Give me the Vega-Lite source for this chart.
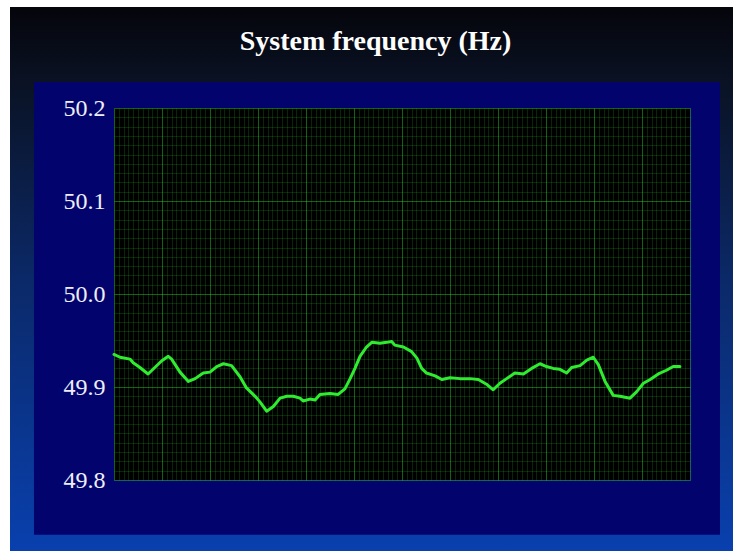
{
  "$schema": "https://vega.github.io/schema/vega-lite/v6.json",
  "width": 723,
  "height": 544,
  "autosize": {"type": "none"},
  "padding": {"left": 10, "top": 7, "right": 4, "bottom": 0},
  "background": "#ffffff",
  "title": {
    "text": "System frequency (Hz)",
    "font": "Liberation Serif",
    "fontSize": 28,
    "fontWeight": "bold",
    "color": "#ffffff",
    "anchor": "middle",
    "baseline": "alphabetic",
    "offset": -71,
    "dx": 4
  },
  "config": {"view": {"stroke": null}},
  "data": {"values": [
    {"t": 0, "f": 49.935}, {"t": 1.25, "f": 49.932}, {"t": 3.33, "f": 49.930}, {"t": 4.0, "f": 49.926},
    {"t": 5.4, "f": 49.921}, {"t": 7.1, "f": 49.914}, {"t": 8.5, "f": 49.921}, {"t": 9.9, "f": 49.928},
    {"t": 11.3, "f": 49.933}, {"t": 12.0, "f": 49.930}, {"t": 13.75, "f": 49.916}, {"t": 15.5, "f": 49.906},
    {"t": 16.9, "f": 49.909}, {"t": 18.6, "f": 49.915}, {"t": 20.0, "f": 49.916}, {"t": 21.4, "f": 49.922},
    {"t": 22.8, "f": 49.925}, {"t": 24.5, "f": 49.923}, {"t": 26.25, "f": 49.911}, {"t": 27.6, "f": 49.899},
    {"t": 29.4, "f": 49.890}, {"t": 30.4, "f": 49.884}, {"t": 31.8, "f": 49.874}, {"t": 33.2, "f": 49.879},
    {"t": 34.6, "f": 49.888}, {"t": 36.0, "f": 49.890}, {"t": 37.35, "f": 49.890}, {"t": 38.75, "f": 49.888},
    {"t": 39.4, "f": 49.885}, {"t": 40.8, "f": 49.887}, {"t": 41.9, "f": 49.886}, {"t": 42.9, "f": 49.892},
    {"t": 45.0, "f": 49.893}, {"t": 46.7, "f": 49.892}, {"t": 48.1, "f": 49.898}, {"t": 49.2, "f": 49.909},
    {"t": 50.2, "f": 49.920}, {"t": 51.25, "f": 49.933}, {"t": 52.6, "f": 49.943}, {"t": 53.7, "f": 49.948},
    {"t": 55.4, "f": 49.947}, {"t": 56.8, "f": 49.948}, {"t": 57.85, "f": 49.949}, {"t": 58.5, "f": 49.945},
    {"t": 60.3, "f": 49.943}, {"t": 62.0, "f": 49.938}, {"t": 63.1, "f": 49.931}, {"t": 64.1, "f": 49.920},
    {"t": 65.1, "f": 49.915}, {"t": 66.9, "f": 49.912}, {"t": 68.3, "f": 49.908}, {"t": 70.0, "f": 49.910},
    {"t": 72.1, "f": 49.909}, {"t": 74.2, "f": 49.909}, {"t": 75.9, "f": 49.908}, {"t": 77.6, "f": 49.903},
    {"t": 79.0, "f": 49.897}, {"t": 80.4, "f": 49.904}, {"t": 81.8, "f": 49.909}, {"t": 83.5, "f": 49.915},
    {"t": 85.3, "f": 49.914}, {"t": 87.0, "f": 49.920}, {"t": 88.75, "f": 49.925}, {"t": 90.1, "f": 49.922},
    {"t": 91.5, "f": 49.920}, {"t": 92.9, "f": 49.919}, {"t": 94.3, "f": 49.915}, {"t": 95.35, "f": 49.921},
    {"t": 97.1, "f": 49.923}, {"t": 98.5, "f": 49.929}, {"t": 99.85, "f": 49.932}, {"t": 100.9, "f": 49.924},
    {"t": 102.3, "f": 49.906}, {"t": 104.0, "f": 49.891}, {"t": 105.4, "f": 49.890}, {"t": 107.5, "f": 49.888},
    {"t": 108.9, "f": 49.895}, {"t": 110.3, "f": 49.904}, {"t": 111.7, "f": 49.908}, {"t": 113.4, "f": 49.914},
    {"t": 115.1, "f": 49.918}, {"t": 116.5, "f": 49.922}, {"t": 117.9, "f": 49.922}
  ]},
  "resolve": {"axis": {"x": "independent", "y": "independent"}},
  "layer": [
    {
      "data": {"values": [{}]},
      "mark": {
        "type": "rect",
        "fill": {
          "gradient": "linear", "x1": 0, "y1": 0, "x2": 0, "y2": 1,
          "stops": [
            {"offset": 0, "color": "#05050b"},
            {"offset": 0.15, "color": "#0a1326"},
            {"offset": 0.5, "color": "#0b2968"},
            {"offset": 1, "color": "#0940ae"}
          ]
        }
      },
      "encoding": {}
    },
    {
      "data": {"values": [{}]},
      "mark": {"type": "rect", "fill": "#03036e"},
      "encoding": {
        "x": {"datum": -16.67, "type": "quantitative", "scale": {"domain": [0, 120], "range": [104, 680], "zero": false, "nice": false}, "axis": null},
        "x2": {"datum": 126.25},
        "y": {"datum": 50.228, "type": "quantitative", "scale": {"domain": [49.8, 50.2], "range": [473, 101], "zero": false, "nice": false}, "axis": null},
        "y2": {"datum": 49.741}
      }
    },
    {
      "data": {"values": [{}]},
      "mark": {"type": "rect", "fill": "#000000"},
      "encoding": {
        "x": {"datum": 0, "type": "quantitative", "scale": {"domain": [0, 120], "range": [104, 680], "zero": false, "nice": false},
          "axis": {"orient": "top", "grid": true, "gridColor": "#2ee82e", "gridOpacity": 0.17, "gridWidth": 1, "tickCount": 120, "labels": false, "ticks": false, "domain": false, "title": null, "zindex": 1}},
        "x2": {"datum": 120},
        "y": {"datum": 49.8, "type": "quantitative", "scale": {"domain": [49.8, 50.2], "range": [473, 101], "zero": false, "nice": false},
          "axis": {"orient": "left", "grid": true, "gridColor": "#2ee82e", "gridOpacity": 0.17, "gridWidth": 1, "tickCount": 40, "labels": false, "ticks": false, "domain": false, "title": null, "zindex": 1}},
        "y2": {"datum": 50.2}
      }
    },
    {
      "mark": {"type": "line", "color": "#30ec30", "strokeWidth": 3, "strokeJoin": "round", "strokeCap": "round"},
      "encoding": {
        "x": {"field": "t", "type": "quantitative", "scale": {"domain": [0, 120], "range": [104, 680], "zero": false, "nice": false},
          "axis": {"orient": "top", "grid": true, "gridColor": "#2ee82e", "gridOpacity": 0.3, "gridWidth": 1, "values": [0, 10, 20, 30, 40, 50, 60, 70, 80, 90, 100, 110, 120], "labels": false, "ticks": false, "domain": false, "title": null, "zindex": 1}},
        "y": {"field": "f", "type": "quantitative", "scale": {"domain": [49.8, 50.2], "range": [473, 101], "zero": false, "nice": false},
          "axis": {"orient": "left", "offset": -104, "grid": true, "gridColor": "#2ee82e", "gridOpacity": 0.3, "gridWidth": 1, "values": [49.8, 49.9, 50.0, 50.1, 50.2], "format": ".1f", "labelFont": "Liberation Serif", "labelFontSize": 24, "labelColor": "#eeeef6", "labelPadding": 9, "labelBaseline": "middle", "labelAlign": "right", "ticks": false, "domain": false, "title": null, "zindex": 1}}
      }
    }
  ]
}
